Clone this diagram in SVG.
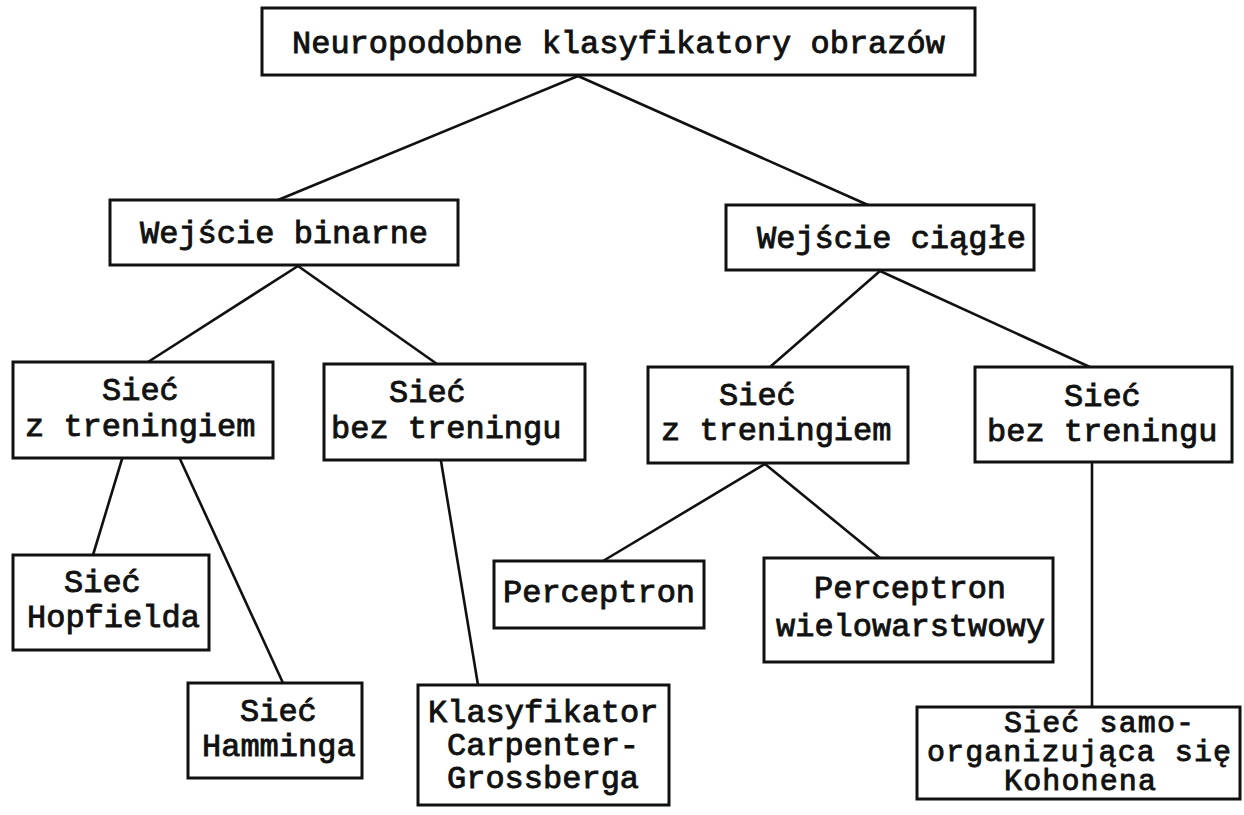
<svg xmlns="http://www.w3.org/2000/svg" width="1244" height="815" viewBox="0 0 1244 815">
  <style>
    .box { fill: #ffffff; stroke: #111111; stroke-width: 3; }
    .edge { stroke: #111111; stroke-width: 2.6; fill: none; stroke-linecap: round; }
    text { font-family: "Liberation Mono", "DejaVu Sans Mono", monospace; font-size: 32px; fill: #111111; stroke: #111111; stroke-width: 0.9; }
    .tight { font-size: 30px; }
  </style>
  <rect x="0" y="0" width="1244" height="815" fill="#ffffff"/>

  <!-- tree connectors -->
  <g id="connectors">
    <line class="edge" x1="578" y1="76" x2="278" y2="200"/>
    <line class="edge" x1="578" y1="76" x2="868" y2="205"/>
    <line class="edge" x1="298" y1="266" x2="148" y2="362"/>
    <line class="edge" x1="298" y1="266" x2="437" y2="364"/>
    <line class="edge" x1="880" y1="271" x2="770" y2="367"/>
    <line class="edge" x1="880" y1="271" x2="1092" y2="368"/>
    <line class="edge" x1="122" y1="459" x2="93" y2="555"/>
    <line class="edge" x1="180" y1="459" x2="283" y2="683"/>
    <line class="edge" x1="441" y1="461" x2="478" y2="685"/>
    <line class="edge" x1="765" y1="464" x2="603" y2="561"/>
    <line class="edge" x1="765" y1="464" x2="880" y2="558"/>
    <line class="edge" x1="1092" y1="464" x2="1092" y2="707"/>
  </g>

  <g id="root">
    <rect class="box" x="262" y="8" width="713" height="67"/>
    <text x="292" y="53">Neuropodobne klasyfikatory obrazów</text>
  </g>

  <g id="binary-input">
    <rect class="box" x="110" y="200" width="348" height="65"/>
    <text x="140" y="243">Wejście binarne</text>
  </g>

  <g id="continuous-input">
    <rect class="box" x="726" y="205" width="308" height="65"/>
    <text x="757" y="248">Wejście ciągłe</text>
  </g>

  <g id="binary-trained">
    <rect class="box" x="13" y="362" width="260" height="96"/>
    <text x="102" y="400">Sieć</text>
    <text x="25" y="436">z treningiem</text>
  </g>

  <g id="binary-untrained">
    <rect class="box" x="324" y="364" width="261" height="96"/>
    <text x="389" y="402">Sieć</text>
    <text x="331" y="438">bez treningu</text>
  </g>

  <g id="continuous-trained">
    <rect class="box" x="648" y="367" width="260" height="96"/>
    <text x="719" y="405">Sieć</text>
    <text x="661" y="440">z treningiem</text>
  </g>

  <g id="continuous-untrained">
    <rect class="box" x="975" y="367" width="257" height="95"/>
    <text x="1064" y="406">Sieć</text>
    <text x="987" y="441">bez treningu</text>
  </g>

  <g id="hopfield">
    <rect class="box" x="13" y="555" width="196" height="95"/>
    <text x="64" y="592">Sieć</text>
    <text x="27" y="627">Hopfielda</text>
  </g>

  <g id="hamming">
    <rect class="box" x="188" y="683" width="174" height="95"/>
    <text x="240" y="721">Sieć</text>
    <text x="202" y="756">Hamminga</text>
  </g>

  <g id="carpenter-grossberg">
    <rect class="box" x="418" y="685" width="251" height="120"/>
    <text x="428" y="722">Klasyfikator</text>
    <text x="447" y="755">Carpenter-</text>
    <text x="447" y="788">Grossberga</text>
  </g>

  <g id="perceptron">
    <rect class="box" x="494" y="561" width="210" height="67"/>
    <text x="503" y="602">Perceptron</text>
  </g>

  <g id="multilayer-perceptron">
    <rect class="box" x="764" y="558" width="289" height="104"/>
    <text x="814" y="598">Perceptron</text>
    <text x="776" y="636">wielowarstwowy</text>
  </g>

  <!-- three lines in a short box: slightly smaller type, stretched back to the full column width -->
  <g id="kohonen">
    <rect class="box" x="917" y="707" width="323" height="92"/>
    <text class="tight" x="1004" y="732" textLength="190" lengthAdjust="spacing">Sieć samo-</text>
    <text class="tight" x="927" y="761" textLength="304" lengthAdjust="spacing">organizująca się</text>
    <text class="tight" x="1004" y="790" textLength="152" lengthAdjust="spacing">Kohonena</text>
  </g>
</svg>
